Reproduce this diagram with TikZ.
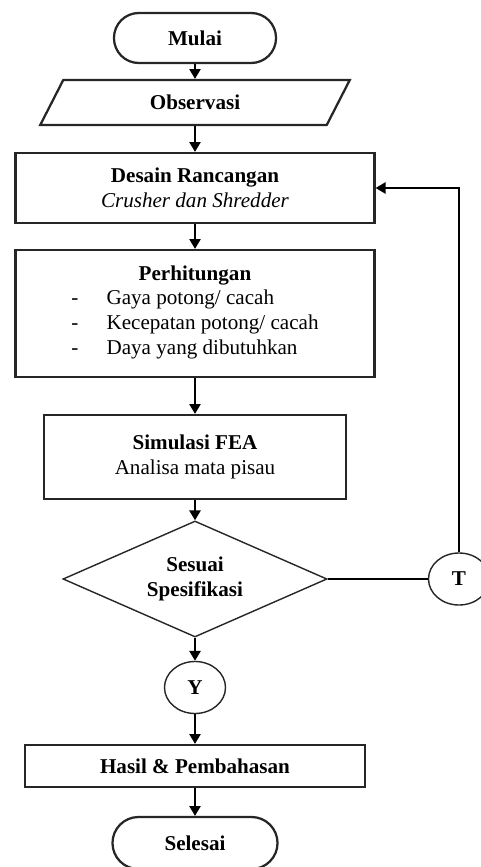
\documentclass[tikz,border=0pt]{standalone}
\usepackage{fontspec}
\setmainfont{Liberation Serif}
\usetikzlibrary{shapes.geometric,arrows.meta}
\tikzset{
	kotak/.style={draw=black!85,line width=1.6pt,rectangle,align=center,inner sep=0pt},
	bulat/.style={draw=black!85,line width=1pt,ellipse,inner sep=0pt,minimum width=1.525cm,minimum height=1.3cm},
	panah/.style={draw=black,line width=1.2pt,-{Triangle[length=7pt,width=8pt]}},
	garis/.style={draw=black,line width=1pt}
}
\begin{document}
\begin{tikzpicture}[x=0.025cm,y=-0.025cm,font=\fontsize{15}{17.5}\selectfont]
	\useasboundingbox (0,0) rectangle (480,867);
%Mulai
	\node[kotak,rounded corners=0.62cm,minimum width=4.05cm,minimum height=1.25cm]
		(mulai) at (195,38)
		{\textbf{Mulai}};
%Observasi
	\node[kotak,trapezium,trapezium left angle=62,trapezium right angle=118,
		trapezium stretches=true,minimum width=7.775cm,minimum height=1.125cm]
		(obs) at (195,102.5)
		{\textbf{Observasi}};
%Desain
	\node[kotak,minimum width=8.975cm,minimum height=1.75cm]
		(desain) at (195,188)
		{\textbf{Desain Rancangan}\\\textit{Crusher dan Shredder}};
%Perhitungan
	\node[kotak,minimum width=8.975cm,minimum height=3.175cm]
		(hitung) at (195,313.5)
		{\textbf{Perhitungan}\\
		\begin{tabular}[t]{@{}p{25pt}@{}l@{}}
		-&Gaya potong/ cacah\\
		-&Kecepatan potong/ cacah\\
		-&Daya yang dibutuhkan
		\end{tabular}};
%Simulasi
	\node[kotak,minimum width=7.55cm,minimum height=2.1cm]
		(sim) at (195,457)
		{\textbf{Simulasi FEA}\\Analisa mata pisau};
%Keputusan
	\node[draw=black!85,line width=1pt,diamond,aspect=2.3,inner sep=0pt,
		minimum width=6.6cm,minimum height=2.9cm,align=center]
		(sesuai) at (195,579)
		{\textbf{Sesuai}\\\textbf{Spesifikasi}};
	\node[bulat] (tidak) at (459,579) {\textbf{T}};
	\node[bulat] (ya) at (195,687.5) {\textbf{Y}};
%Hasil
	\node[kotak,minimum width=8.5cm,minimum height=1.05cm]
		(hasil) at (195,766)
		{\textbf{Hasil \& Pembahasan}};
%Selesai
	\node[kotak,rounded corners=0.65cm,minimum width=4.125cm,minimum height=1.3cm]
		(selesai) at (195,843)
		{\textbf{Selesai}};
%Panah
	\foreach \a/\b in {mulai/obs,obs/desain,desain/hitung,hitung/sim,sim/sesuai,sesuai/ya,ya/hasil,hasil/selesai}{
		\draw[panah] (\a) -- (\b);}
	\draw[garis] (sesuai.east) -- (tidak.west);
	\draw[panah] (tidak.north) |- (desain.east);
\end{tikzpicture}
\end{document}
